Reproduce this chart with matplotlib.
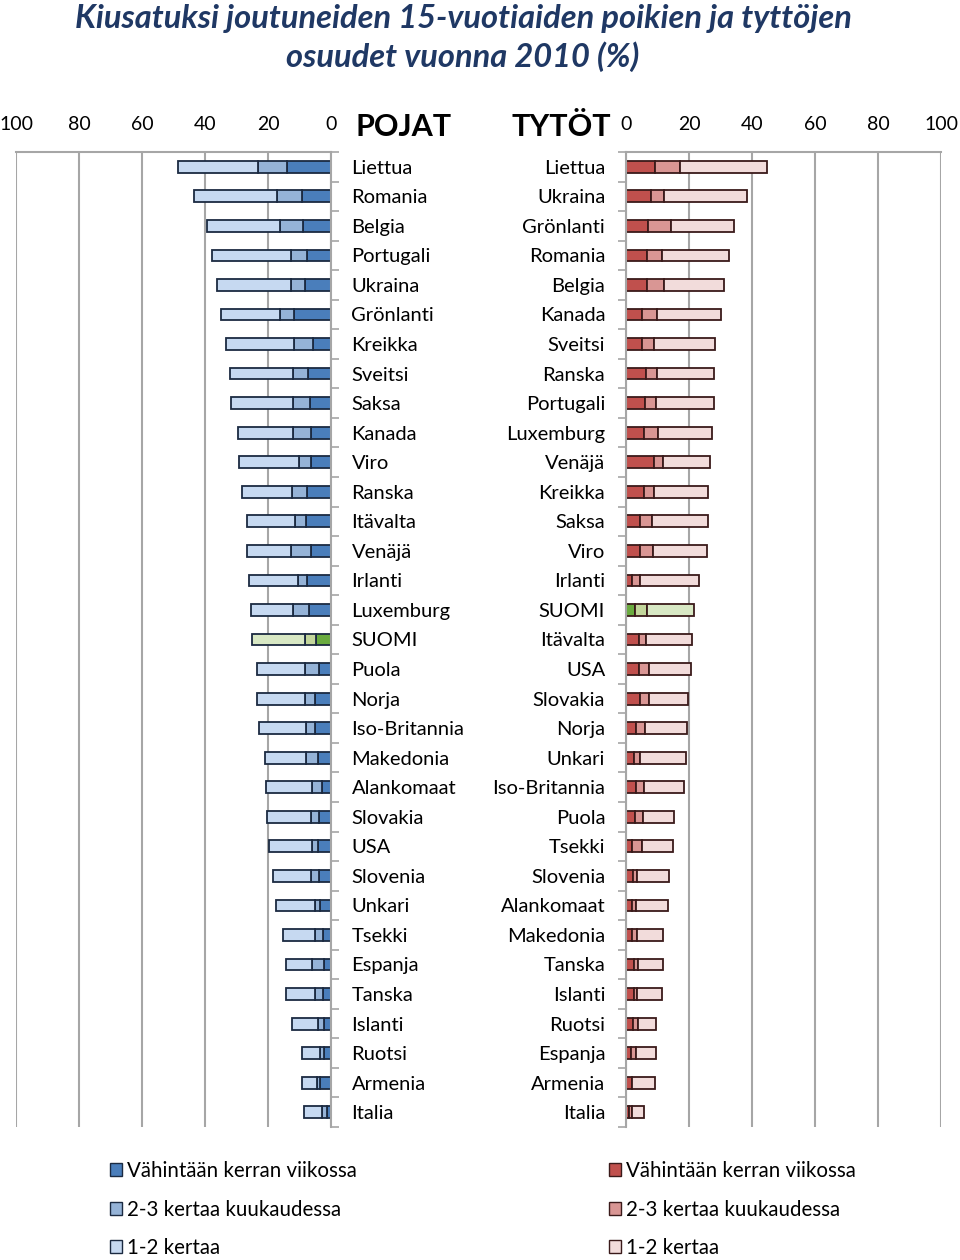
import matplotlib
matplotlib.use("Agg")
import matplotlib.pyplot as plt
import numpy as np
from matplotlib.patches import Patch

plt.rcParams['font.family'] = ['Lato', 'DejaVu Sans']

# pojat (boys), järjestys ylhäältä alas
boys = ["Liettua", "Romania", "Belgia", "Portugali", "Ukraina", "Grönlanti", "Kreikka",
        "Sveitsi", "Saksa", "Kanada", "Viro", "Ranska", "Itävalta", "Venäjä", "Irlanti",
        "Luxemburg", "SUOMI", "Puola", "Norja", "Iso-Britannia", "Makedonia", "Alankomaat",
        "Slovakia", "USA", "Slovenia", "Unkari", "Tsekki", "Espanja", "Tanska", "Islanti",
        "Ruotsi", "Armenia", "Italia"]
boys_week = [14.0, 9.3, 9.0, 7.5, 8.4, 11.7, 5.6, 7.4, 6.6, 6.5, 6.2, 7.6, 7.9, 6.2, 7.5,
             7.1, 4.7, 3.8, 5.2, 5.0, 4.0, 3.0, 3.8, 4.0, 3.7, 3.5, 2.6, 2.3, 2.6, 2.2,
             2.3, 3.5, 1.4]
boys_month = [9.2, 7.9, 7.1, 5.3, 4.2, 4.4, 6.1, 4.8, 5.6, 5.7, 4.0, 4.9, 3.5, 6.6, 2.9,
              5.0, 3.6, 4.3, 3.2, 2.9, 3.8, 3.0, 2.4, 2.1, 2.7, 1.6, 2.5, 3.7, 2.6, 1.9,
              1.2, 0.8, 1.3]
boys_once = [25.4, 26.2, 23.2, 24.9, 23.5, 18.9, 21.7, 20.0, 19.5, 17.3, 18.9, 15.7, 15.3,
             13.8, 15.5, 13.3, 16.9, 15.5, 15.1, 15.1, 13.1, 14.7, 14.2, 13.6, 12.0, 12.5,
             10.2, 8.3, 9.0, 8.3, 5.8, 4.8, 6.0]

# tytöt (girls)
girls = ["Liettua", "Ukraina", "Grönlanti", "Romania", "Belgia", "Kanada", "Sveitsi",
         "Ranska", "Portugali", "Luxemburg", "Venäjä", "Kreikka", "Saksa", "Viro", "Irlanti",
         "SUOMI", "Itävalta", "USA", "Slovakia", "Norja", "Unkari", "Iso-Britannia", "Puola",
         "Tsekki", "Slovenia", "Alankomaat", "Makedonia", "Tanska", "Islanti", "Ruotsi",
         "Espanja", "Armenia", "Italia"]
girls_week = [9.1, 8.0, 7.1, 6.8, 6.8, 5.1, 5.0, 6.2, 5.9, 5.8, 8.9, 5.8, 4.5, 4.6, 2.0,
              3.0, 4.1, 4.2, 4.4, 3.3, 2.4, 3.2, 3.0, 2.0, 2.3, 1.9, 1.8, 2.4, 2.4, 2.2,
              1.5, 1.8, 1.0]
girls_month = [7.9, 4.1, 7.3, 4.5, 5.3, 4.8, 3.8, 3.6, 3.7, 4.4, 2.9, 3.1, 3.6, 4.1, 2.5,
               3.8, 2.2, 3.0, 2.8, 2.7, 2.0, 2.6, 2.4, 3.2, 1.3, 1.3, 1.7, 1.4, 1.1, 1.6,
               1.7, 0.1, 0.9]
girls_once = [27.8, 26.4, 20.0, 21.4, 18.9, 20.3, 19.6, 18.2, 18.4, 17.0, 14.9, 17.1, 17.8,
              17.1, 18.8, 14.8, 14.8, 13.5, 12.5, 13.3, 14.6, 12.6, 9.7, 9.6, 10.0, 10.1,
              8.4, 7.9, 8.0, 5.8, 6.2, 7.3, 3.7]

legend_labels = ["Vähintään kerran viikossa", "2-3 kertaa kuukaudessa", "1-2 kertaa"]

blues = ["#4A7EBB", "#95B3D7", "#C6D9F1"]
reds = ["#C0504D", "#D99694", "#F2DCDB"]
greens = ["#6AAB3F", "#C3D69B", "#D8E8C4"]

fig = plt.figure(figsize=(9.6, 12.6), dpi=100)
axL = fig.add_axes([16/960, 1-1127/1260, 315/960, 975/1260])
axR = fig.add_axes([626/960, 1-1127/1260, 315/960, 975/1260])

def draw(ax, names, parts, base_cols, edge):
    y = np.arange(len(names))
    left = np.zeros(len(names))
    for i, vals in enumerate(parts):
        vals = np.array(vals)
        cols = [greens[i] if n == "SUOMI" else base_cols[i] for n in names]
        ax.barh(y, vals, left=left, height=0.4, color=cols, edgecolor=edge, linewidth=1.3)
        left = left + vals
    ax.set_ylim(len(names) - 0.5, -0.5)
    ax.set_xlim(0, 100)
    ax.set_xticks(range(0, 101, 20))
    ax.xaxis.tick_top()
    ax.tick_params(axis='x', length=0, labelsize=14, pad=14)
    ax.set_yticks([])
    ax.set_yticks(np.arange(-0.5, len(names)), minor=True)
    ax.tick_params(axis='y', which='minor', length=6, color='#A6A6A6', width=1.2)
    ax.grid(axis='x', color='#A6A6A6', linewidth=1.5)
    ax.set_axisbelow(True)
    for s in ax.spines.values():
        s.set_visible(False)
    ax.spines['top'].set_visible(True)
    ax.spines['top'].set_color('#A6A6A6')
    ax.spines['top'].set_linewidth(1.5)

draw(axL, boys, [boys_week, boys_month, boys_once], blues, '#1B2A41')
axL.invert_xaxis()
axL.spines['right'].set_visible(True)
axL.spines['right'].set_color('#A6A6A6')
axL.spines['right'].set_linewidth(1.5)
axL.yaxis.tick_right()
axL.tick_params(axis='y', which='minor', right=True, left=False)
for i, n in enumerate(boys):
    axL.text(1.065, i + 0.05, n, transform=axL.get_yaxis_transform(), ha='left', va='center',
             fontsize=14.5)

draw(axR, girls, [girls_week, girls_month, girls_once], reds, '#3A1A1A')
axR.spines['left'].set_visible(True)
axR.spines['left'].set_color('#A6A6A6')
axR.spines['left'].set_linewidth(1.5)
for i, n in enumerate(girls):
    axR.text(-0.066, i + 0.05, n, transform=axR.get_yaxis_transform(), ha='right', va='center',
             fontsize=14.5)

fig.text(356/960, 1-127/1260, "POJAT", fontsize=22, fontweight='bold', ha='left', va='center')
fig.text(611/960, 1-127/1260, "TYTÖT", fontsize=22, fontweight='bold', ha='right', va='center')

fig.text(463/960, 1-38/1260,
         "Kiusatuksi joutuneiden 15-vuotiaiden poikien ja tyttöjen\nosuudet vuonna 2010 (%)",
         fontsize=23.5, fontweight='bold', fontstyle='italic', color='#1F3864',
         ha='center', va='center', linespacing=1.36)

# legendat
hL = [Patch(facecolor=c, edgecolor='#1B2A41') for c in blues]
hR = [Patch(facecolor=c, edgecolor='#3A1A1A') for c in reds]
for hs, x0 in [(hL, 110), (hR, 609)]:
    fig.legend(hs, legend_labels, loc='upper left', bbox_to_anchor=(x0/960, 1-1161/1260),
               frameon=False, fontsize=14.8, handlelength=0.6, handleheight=0.6,
               handletextpad=0.25, labelspacing=0.9, borderpad=0, borderaxespad=0)

fig.savefig("out.png", dpi=100)
